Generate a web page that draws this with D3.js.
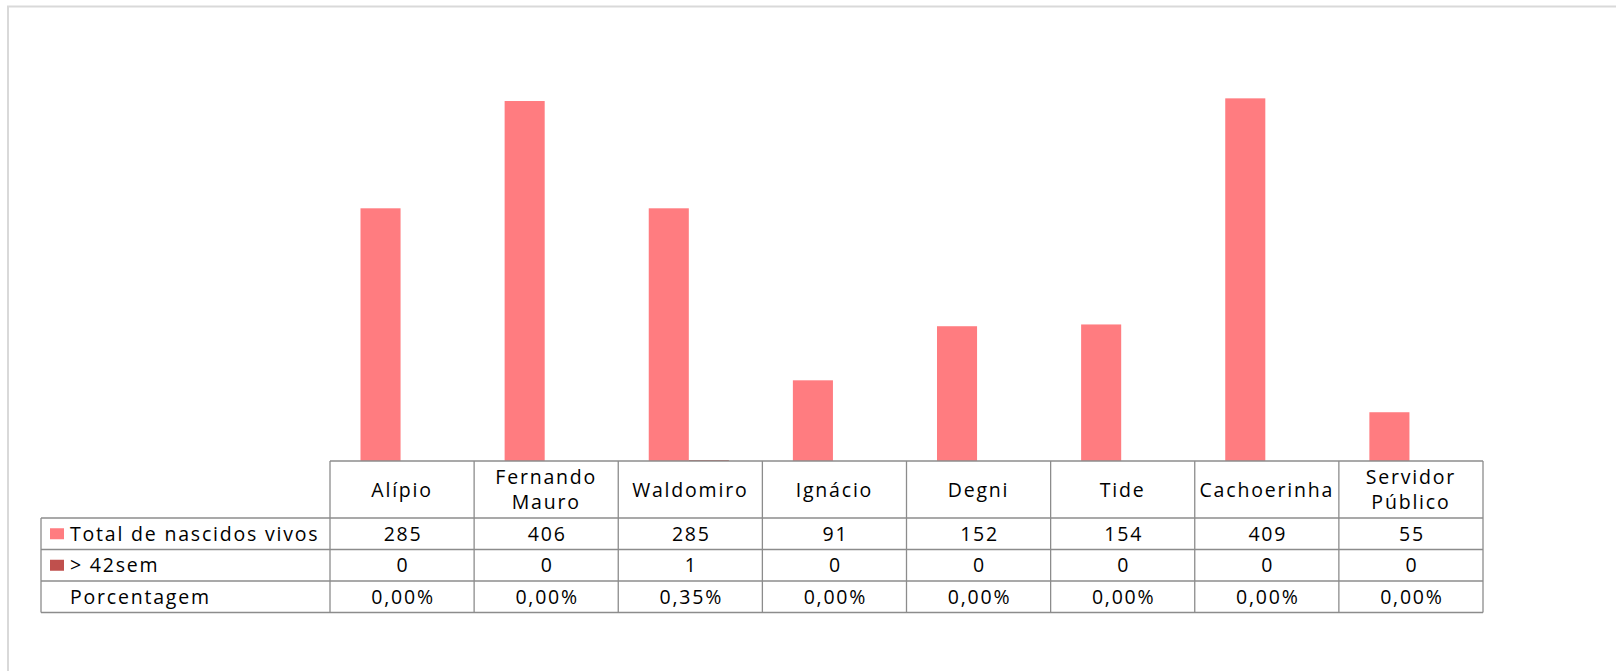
<!DOCTYPE html>
<html>
<head>
<meta charset="utf-8">
<script src="https://cdn.jsdelivr.net/npm/d3@7"></script>
<style>
  html, body { margin: 0; padding: 0; background: #fff; }
  svg { display: block; }
  text { font-family: "Open Sans", "Liberation Sans", sans-serif; font-size: 19.5px; letter-spacing: 1.8px; fill: #000; }
</style>
</head>
<body>
<svg id="chart" width="1616" height="671"></svg>
<script>
// ---- data ----
const categories = [["Alípio"], ["Fernando", "Mauro"], ["Waldomiro"], ["Ignácio"], ["Degni"], ["Tide"], ["Cachoerinha"], ["Servidor", "Público"]];
const seriesNames = ["Total de nascidos vivos", "> 42sem"];
const totalNascidos = [285, 406, 285, 91, 152, 154, 409, 55];
const acima42sem = [0, 0, 1, 0, 0, 0, 0, 0];
const porcentagem = [0.00, 0.00, 0.35, 0.00, 0.00, 0.00, 0.00, 0.00];
const rowLabels = ["Total de nascidos vivos", "> 42sem", "Porcentagem"];
const yMax = 450;

// ---- layout ----
const colors = ["#FF7C80", "#C0504D"];
const tableLeft = 41, plotLeft = 330, plotRight = 1483;
const plotTop = 62, plotBottom = 461;
const headerBottom = 518;
const rowH = 31.5;
const gridColor = "#8c8c8c";

const svg = d3.select("#chart");

// outer chart frame
svg.append("rect")
  .attr("x", 8).attr("y", 6.5).attr("width", 1640).attr("height", 700)
  .attr("fill", "none").attr("stroke", "#d9d9d9").attr("stroke-width", 2);

const keys = categories.map((c, i) => i);
const x = d3.scaleBand().domain(keys).range([plotLeft, plotRight]).paddingInner(0.444).paddingOuter(0.222);
const xs = d3.scaleBand().domain([0, 1]).range([0, x.bandwidth()]);
const y = d3.scaleLinear().domain([0, yMax]).range([plotBottom, plotTop]);
const cols = d3.scaleBand().domain(keys).range([plotLeft, plotRight]);

const series = [totalNascidos, acima42sem];
series.forEach((vals, s) => {
  svg.append("g").selectAll("rect").data(vals).join("rect")
    .attr("x", (d, i) => x(i) + xs(s) - 1.5)
    .attr("width", xs.bandwidth())
    .attr("y", d => y(d))
    .attr("height", d => plotBottom - y(d))
    .attr("fill", colors[s]);
});

// ---- data table ----
const rowTops = [headerBottom, headerBottom + rowH, headerBottom + 2 * rowH];
const tableBottom = headerBottom + 3 * rowH;
const g = svg.append("g").attr("stroke", gridColor).attr("stroke-width", 1.3).attr("fill", "none");

// horizontal lines
g.append("line").attr("x1", plotLeft).attr("x2", plotRight).attr("y1", plotBottom).attr("y2", plotBottom);
[headerBottom, headerBottom + rowH, headerBottom + 2 * rowH, tableBottom].forEach(yy => {
  g.append("line").attr("x1", tableLeft).attr("x2", plotRight).attr("y1", yy).attr("y2", yy);
});
// vertical lines
g.append("line").attr("x1", tableLeft).attr("x2", tableLeft).attr("y1", headerBottom).attr("y2", tableBottom);
keys.concat([keys.length]).forEach(i => {
  const xx = i < keys.length ? cols(i) : plotRight;
  g.append("line").attr("x1", xx).attr("x2", xx).attr("y1", plotBottom).attr("y2", tableBottom);
});

// header labels
const headerMid = (plotBottom + headerBottom) / 2;
categories.forEach((lines, i) => {
  const cx = cols(i) + cols.bandwidth() / 2;
  const t = svg.append("text").attr("text-anchor", "middle");
  const lh = 24.5;
  lines.forEach((ln, k) => {
    t.append("tspan").attr("x", cx)
      .attr("y", headerMid + 7 + (k - (lines.length - 1) / 2) * lh)
      .text(ln);
  });
});

// row labels + legend keys
rowLabels.forEach((lab, r) => {
  const cy = rowTops[r] + rowH / 2;
  if (r < 2) {
    svg.append("rect").attr("x", 50).attr("y", cy - 5.5).attr("width", 14).attr("height", 11).attr("fill", colors[r]);
  }
  svg.append("text").attr("x", 70).attr("y", cy + 7).text(lab);
});

// cell values
const fmtPct = v => v.toFixed(2).replace(".", ",") + "%";
const rowsVals = [totalNascidos.map(String), acima42sem.map(String), porcentagem.map(fmtPct)];
rowsVals.forEach((vals, r) => {
  const cy = rowTops[r] + rowH / 2;
  svg.append("g").selectAll("text").data(vals).join("text")
    .attr("text-anchor", "middle")
    .attr("x", (d, i) => cols(i) + cols.bandwidth() / 2 + 1)
    .attr("y", cy + 7)
    .text(d => d);
});
</script>
</body>
</html>
